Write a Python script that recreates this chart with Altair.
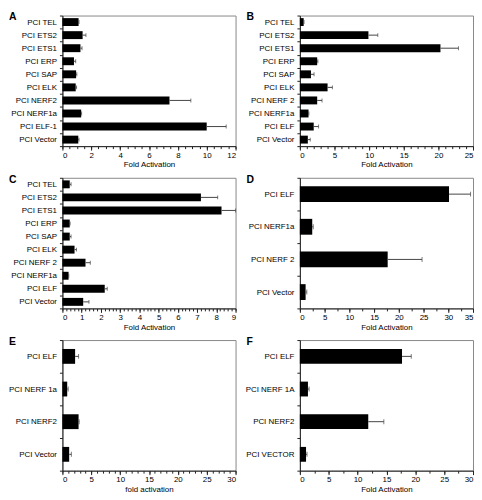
import altair as alt
import pandas as pd

# panel data: labels top-to-bottom, bar value, upper end of error bar
a_labels = ['PCI TEL', 'PCI ETS2', 'PCI ETS1', 'PCI ERP', 'PCI SAP', 'PCI ELK',
            'PCI NERF2', 'PCI NERF1a', 'PCI ELF-1', 'PCI Vector']
a_vals = [1.12, 1.4, 1.25, 0.8, 0.95, 0.92, 7.42, 1.3, 10.0, 1.1]
a_upper = [1.15, 1.63, 1.36, 0.92, 1.0, 0.98, 8.9, 1.33, 11.35, 1.15]

b_labels = ['PCI TEL', 'PCI ETS2', 'PCI ETS1', 'PCI ERP', 'PCI SAP', 'PCI ELK',
            'PCI NERF 2', 'PCI NERF1a', 'PCI ELF', 'PCI Vector']
b_vals = [0.55, 9.9, 20.3, 2.5, 1.6, 4.0, 2.5, 1.25, 2.0, 1.15]
b_upper = [0.6, 11.25, 22.9, 2.6, 2.05, 4.7, 3.2, 1.3, 2.7, 1.5]

c_labels = b_labels
c_vals = [0.38, 7.2, 8.27, 0.38, 0.38, 0.63, 1.2, 0.32, 2.2, 1.08]
c_upper = [0.45, 8.07, 9.0, 0.4, 0.45, 0.73, 1.45, 0.33, 2.33, 1.38]

d_labels = ['PCI ELF', 'PCI NERF1a', 'PCI NERF 2', 'PCI Vector']
d_vals = [30.15, 2.5, 17.75, 1.16]
d_upper = [34.5, 2.7, 24.7, 1.4]

e_labels = ['PCI ELF', 'PCI NERF 1a', 'PCI NERF2', 'PCI Vector']
e_vals = [2.2, 0.83, 2.8, 1.17]
e_upper = [2.8, 1.0, 2.9, 1.55]

f_labels = ['PCI ELF', 'PCI NERF 1A', 'PCI NERF2', 'PCI VECTOR']
f_vals = [17.7, 1.4, 11.85, 1.07]
f_upper = [19.3, 1.6, 14.55, 1.24]

W, H = 175, 132


def frange(stop, step):
    n = int(round(stop / step))
    return [round(i * step, 4) for i in range(n + 1)]


def panel(letter, labels, vals, upper, xmax, major, minor, xtitle, bar, cap):
    df = pd.DataFrame({'label': labels, 'value': vals, 'upper': upper})
    xs = alt.Scale(domain=[0, xmax], nice=False, zero=True)
    ys = alt.Scale(paddingInner=0, paddingOuter=0)
    y_enc = alt.Y('label:N', sort=labels, scale=ys,
                  axis=alt.Axis(title=None, tickBand='extent', tickSize=3, labelPadding=3))

    base = alt.Chart(df)
    bars = base.mark_bar(color='black', size=bar).encode(
        x=alt.X('value:Q', scale=xs,
                axis=alt.Axis(values=frange(xmax, major), title=xtitle, tickSize=4,
                              labelPadding=1, titlePadding=2)),
        y=y_enc
    )
    err = base.mark_rule(color='#444', strokeWidth=1).encode(
        x=alt.X('value:Q', scale=xs,
                axis=alt.Axis(values=frange(xmax, minor), orient='bottom', labels=False,
                              domain=False, tickSize=2.5, title=None)),
        x2='upper:Q',
        y=y_enc
    )
    caps = base.mark_tick(color='#444', orient='vertical', size=cap, thickness=1).encode(
        x=alt.X('upper:Q', scale=xs, axis=None),
        y=y_enc
    )
    tag = alt.Chart(pd.DataFrame({'t': [letter]})).mark_text(
        fontSize=10.5, fontWeight='bold', font='Liberation Sans', align='left', baseline='top'
    ).encode(text='t:N', x=alt.value(-54), y=alt.value(-3))

    return alt.layer(bars, err, caps, tag).resolve_axis(x='independent').properties(
        width=W, height=H)


charts = [
    panel('A', a_labels, a_vals, a_upper, 12, 2, 0.5, 'Fold Activation', 8, 4),
    panel('B', b_labels, b_vals, b_upper, 25, 5, 1, 'Fold Activation', 8, 4),
    panel('C', c_labels, c_vals, c_upper, 9, 1, 0.2, 'Fold Activation', 8, 4),
    panel('D', d_labels, d_vals, d_upper, 35, 5, 2.5, 'Fold Activation', 16, 5),
    panel('E', e_labels, e_vals, e_upper, 30, 5, 1, 'fold activation', 15, 5),
    panel('F', f_labels, f_vals, f_upper, 30, 5, 2.5, 'Fold Activation', 15, 5),
]

chart = alt.concat(*charts, columns=2, spacing={'row': 3, 'column': 8}).properties(
    padding=0
).configure_view(
    stroke='#888', strokeWidth=1
).configure_axis(
    labelFont='Liberation Sans', labelFontSize=8, labelColor='black',
    titleFont='Liberation Sans', titleFontSize=8, titleFontWeight='normal', titleColor='black',
    domainColor='#222', tickColor='#222', grid=False
)

chart.save('out.html', embed_options={'renderer': 'svg', 'actions': False})
